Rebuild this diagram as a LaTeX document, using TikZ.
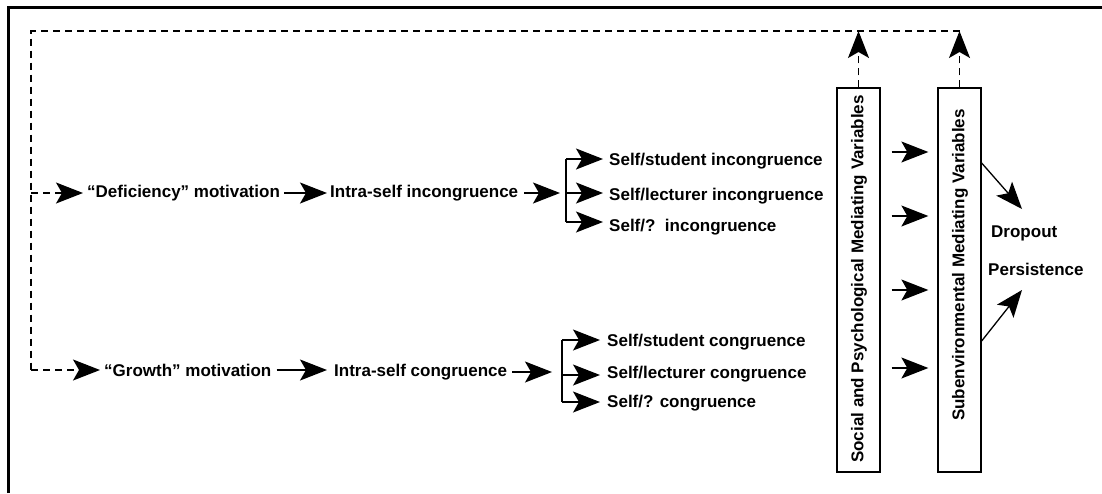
\documentclass[tikz,border=0pt]{standalone}
\usepackage{fontspec}
\setmainfont{Liberation Sans}
\usetikzlibrary{arrows.meta}

\begin{document}
\begin{tikzpicture}[x=1pt,y=-1pt,
  lbl/.style={font=\bfseries\fontsize{17}{20}\selectfont, inner sep=0pt, anchor=west},
  vlabel/.style={font=\bfseries\fontsize{17}{20}\selectfont, inner sep=0pt, rotate=90},
  arr/.style={line width=1.3pt, -{Stealth[length=27pt,width=21pt,inset=6pt,fill=black]}},
  fbline/.style={line width=1.3pt, dash pattern=on 7pt off 5pt},
  fb/.style={arr, fbline},
  bar/.style={line width=1.3pt},
  varbox/.style={draw, line width=1.3pt, minimum width=43pt, minimum height=384pt, inner sep=0pt}]

\useasboundingbox (0,0) rectangle (1102,493);

% frame: top and left edges
\draw[line width=3pt] (8,493) -- (8,7) -- (1102,7);

% upper chain
\node[lbl] (def) at (87,193) {“Deficiency” motivation};
\node[lbl] (iI)  at (330,193) {Intra-self incongruence};
\node[lbl] (ssI) at (609,161) {Self/student incongruence};
\node[lbl] (slI) at (609,196) {Self/lecturer incongruence};
\node[lbl] (sqI) at (609,227) {Self/?\ \ incongruence};

% lower chain
\node[lbl] (gro) at (104,370) {“Growth” motivation};
\node[lbl] (iC)  at (334,372) {Intra-self congruence};
\node[lbl] (ssC) at (607,342) {Self/student congruence};
\node[lbl] (slC) at (607,374) {Self/lecturer congruence};
\node[lbl] (sqC) at (607,403) {Self/? congruence};

% mediating variable boxes
\node[varbox] (b1) at (858.5,280) {};
\node[vlabel] (b1t) at (859,279) {Social and Psychological Mediating Variables};
\node[varbox] (b2) at (959.5,280) {};
\node[vlabel] (b2t) at (960,265) {Subenvironmental Mediating Variables};

% outcomes
\node[lbl] (drop) at (991,233) {Dropout};
\node[lbl] (pers) at (988,269) {Persistence};

% bracket and routing points
\coordinate (cTop) at (31,31);
\coordinate (cDef) at (31,193);
\coordinate (cGro) at (31,370);
\coordinate (brI1) at (566,159);
\coordinate (brI2) at (566,193);
\coordinate (brI3) at (566,222);
\coordinate (brC1) at (562,340);
\coordinate (brC2) at (562,375);
\coordinate (brC3) at (562,402);
\coordinate (toDrop) at (1022,209);
\coordinate (toPers) at (1022,290);

% feedback loop (dashed)
\draw[fb] (b1.north) -- (b1.north |- cTop);
\draw[fb] (b2.north) -- (b2.north |- cTop);
\draw[fbline] (b2.north |- cTop) -- (cTop) -- (cGro);
\draw[fb] (cDef) -- ([xshift=-4pt]def.west);
\draw[fb] (cGro) -- ([xshift=-4pt]gro.west);

% upper chain arrows
\draw[arr] ([xshift=4pt]def.east) -- ([xshift=-3pt]iI.west);
\draw[arr] ([xshift=6pt]iI.east) -- ([xshift=-6pt]brI2);
\draw[bar] (brI1) -- (brI3);
\draw[arr] (brI1) -- ([xshift=-6pt]ssI.west |- brI1);
\draw[arr] (brI2) -- ([xshift=-6pt]slI.west |- brI2);
\draw[arr] (brI3) -- ([xshift=-6pt]sqI.west |- brI3);

% lower chain arrows
\draw[arr] ([xshift=5pt]gro.east) -- ([xshift=-7pt]iC.west |- gro.west);
\draw[arr] ([xshift=5pt]iC.east) -- ([xshift=-10pt]brC2 |- iC.east);
\draw[bar] (brC1) -- (brC3);
\draw[arr] (brC1) -- ([xshift=-7pt]ssC.west |- brC1);
\draw[arr] (brC2) -- ([xshift=-7pt]slC.west |- brC2);
\draw[arr] (brC3) -- ([xshift=-7pt]sqC.west |- brC3);

% between the boxes
\foreach \yy in {152,216,290,368}
  \draw[arr] ([xshift=11pt]b1.east |- 0,\yy) -- ([xshift=-9pt]b2.west |- 0,\yy);

% to the outcomes
\draw[arr] (b2.east |- 0,163) -- (toDrop);
\draw[arr] (b2.east |- 0,341) -- (toPers);
\end{tikzpicture}
\end{document}
